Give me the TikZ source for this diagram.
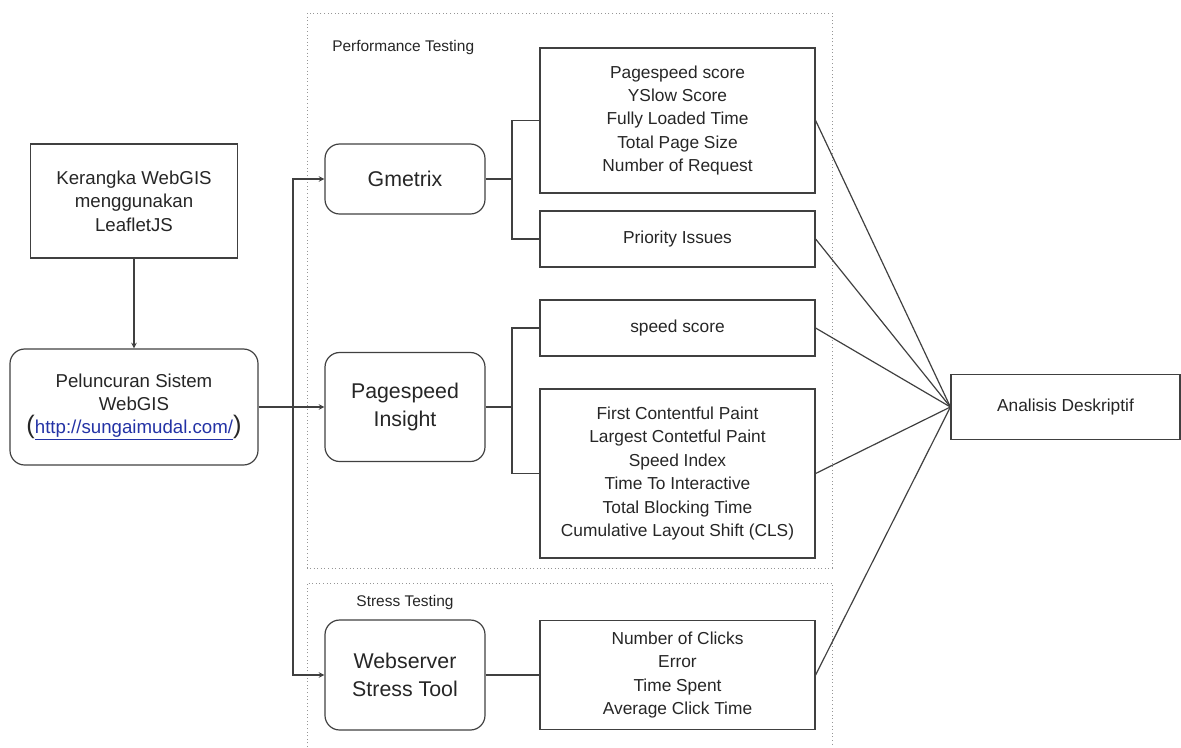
\documentclass[tikz,border=0pt]{standalone}
\usepackage{fontspec}
\setmainfont{Liberation Sans}
\usepackage{xcolor}
\usepackage{tikz}
\usetikzlibrary{shapes,arrows,positioning,calc}

\definecolor{urlblue}{RGB}{35,50,165}
\definecolor{framegray}{RGB}{150,150,150}

\begin{document}
\begin{tikzpicture}[
    x=0.75pt, y=-0.75pt,
    every node/.style={inner sep=0pt, text=black!85},
    plainbox/.style={rectangle, draw=black!75, line width=0.9pt, align=center, font=\fontsize{13}{17.6}\selectfont},
    toolbox/.style={rectangle, rounded corners=11pt, draw=black!75, line width=0.9pt, align=center, minimum width=120pt, font=\fontsize{16}{21}\selectfont},
    metricbox/.style={plainbox, minimum width=206.25pt},
    groupframe/.style={draw=framegray, dotted, line width=0.7pt},
    grouplabel/.style={font=\fontsize{11.6}{14}\selectfont},
    link/.style={draw=black!75, line width=0.9pt},
    arrow/.style={link, ->, >=stealth}
]
\useasboundingbox (0,0) rectangle (1181,747);

% Testing groups
\draw[groupframe] (307,13) rectangle (832,568);
\draw[groupframe] (307,747) |- (832,583) -- (832,747);
\node[grouplabel, anchor=west] (perflabel) at (332,47) {Performance Testing};
\node[grouplabel] (stresslabel) at (405,602) {Stress Testing};

% Left column
\node[plainbox, minimum width=155.25pt, minimum height=85.5pt, font=\fontsize{14}{17.6}\selectfont] (kerangka) at (134,201) {Kerangka WebGIS\\menggunakan\\LeafletJS};
\node[plainbox, rounded corners=11pt, minimum width=186pt, minimum height=87pt, font=\fontsize{14}{17.6}\selectfont] (peluncuran) at (134,407) {Peluncuran Sistem\\WebGIS\\{\fontsize{19}{17.6}\selectfont(}\textcolor{urlblue}{\underline{http://sungaimudal.com/}}{\fontsize{19}{17.6}\selectfont)}};

% Tools
\node[toolbox, minimum height=52.5pt] (gmetrix) at (405,179) {Gmetrix};
\node[toolbox, minimum height=81.75pt] (pagespeed) at (405,407) {Pagespeed\\Insight};
\node[toolbox, minimum height=82.5pt] (webserver) at (405,675) {Webserver\\Stress Tool};

% Metrics
\node[metricbox, minimum height=108.75pt] (gmscores) at (677.5,120.5) {Pagespeed score\\YSlow Score\\Fully Loaded Time\\Total Page Size\\Number of Request};
\node[metricbox, minimum height=42pt] (gmissues) at (677.5,239) {Priority Issues};
\node[metricbox, minimum height=42pt] (psscore) at (677.5,328) {speed score};
\node[metricbox, minimum height=126.75pt] (psmetrics) at (677.5,473.5) {First Contentful Paint\\Largest Contetful Paint\\Speed Index\\Time To Interactive\\Total Blocking Time\\Cumulative Layout Shift (CLS)};
\node[metricbox, minimum height=81.75pt] (stmetrics) at (677.5,675) {Number of Clicks\\Error\\Time Spent\\Average Click Time};

\node[plainbox, minimum width=171.75pt, minimum height=48.75pt] (analisis) at (1065.5,407) {Analisis Deskriptif};

% Branch points
\coordinate (split) at (293,407);
\coordinate (gmbranch) at (512,179);
\coordinate (psbranch) at (512,407);

% Arrows
\draw[arrow] (kerangka) -- (peluncuran);
\draw[arrow] (peluncuran.east) -- (pagespeed.west);
\draw[arrow] (split) |- (gmetrix.west);
\draw[arrow] (split) |- (webserver.west);

% Tree lines
\draw[link] (gmetrix.east) -- (gmbranch) |- (gmscores.west);
\draw[link] (gmbranch) |- (gmissues.west);
\draw[link] (pagespeed.east) -- (psbranch) |- (psscore.west);
\draw[link] (psbranch) |- (psmetrics.west);
\draw[link] (webserver.east) -- (stmetrics.west);

% Into the analysis
\foreach \src in {gmscores, gmissues, psscore, psmetrics, stmetrics}
    \draw[link] (\src.east) -- (analisis.west);

\end{tikzpicture}
\end{document}
